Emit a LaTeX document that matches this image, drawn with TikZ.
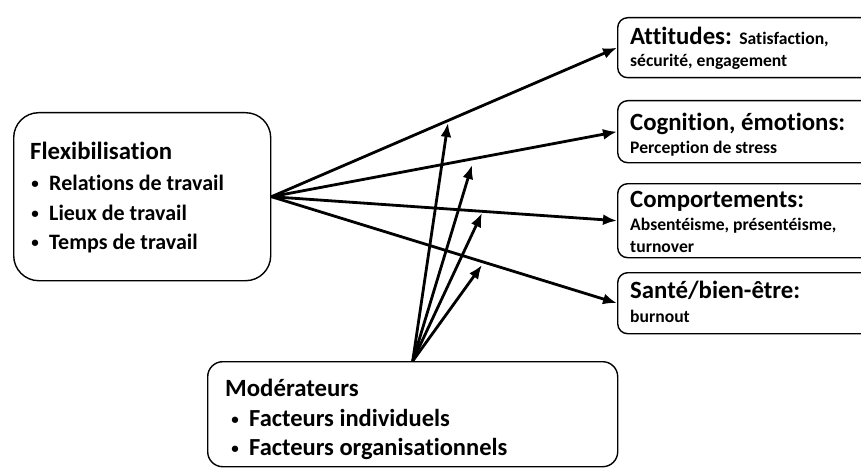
\documentclass[tikz,border=0pt]{standalone}
\usepackage{fontspec}
\setmainfont{Carlito}[Ligatures=NoCommon]
\usetikzlibrary{arrows.meta}
\newcommand{\bul}{\makebox[21pt][l]{\makebox[14pt][c]{\raisebox{1.5pt}{\fontsize{15}{15}\selectfont\textbullet}}}}
\begin{document}
\begin{tikzpicture}[x=1pt,y=-1pt,
  box/.style={draw, line width=1.4pt, rounded corners=#1, inner sep=0pt, anchor=north west},
  box/.default=10pt,
  head/.style={anchor=base west, inner sep=0pt, font=\fontsize{24.8}{28}\selectfont\bfseries},
  item/.style={anchor=base west, inner sep=0pt, font=\fontsize{22}{26}\selectfont\bfseries},
  mitem/.style={anchor=base west, inner sep=0pt, font=\fontsize{24.5}{28}\selectfont\bfseries},
  sub/.style={anchor=base west, inner sep=0pt, font=\fontsize{17.6}{20}\selectfont\bfseries},
  arr/.style={line width=2.8pt, -{Latex[length=14pt,width=11pt]}}]
\useasboundingbox (0,0) rectangle (861,468);
\clip (0,0) rectangle (861,468);
% boxes
\node[box=25pt, minimum width=257pt, minimum height=168pt] (flex) at (13,112) {};
\node[box=10pt, minimum width=300pt, minimum height=60pt] (att) at (617,17) {};
\node[box=10pt, minimum width=300pt, minimum height=62pt] (cog) at (617,100) {};
\node[box=10pt, minimum width=300pt, minimum height=74pt] (comp) at (617,183) {};
\node[box=10pt, minimum width=300pt, minimum height=61pt] (sante) at (617,272) {};
\node[box=15pt, minimum width=410pt, minimum height=105pt] (mod) at (207,361) {};
% texts
\node[head] (flexh) at (30,159) {Flexibilisation};
\node[item] (flex1) at (28,190) {\bul Relations de travail};
\node[item] (flex2) at (28,220) {\bul Lieux de travail};
\node[item] (flex3) at (28,249) {\bul Temps de travail};
\node[head] (atth) at (630,45) {Attitudes: {\fontsize{17.6}{20}\selectfont Satisfaction,}};
\node[sub] (att2) at (630,67) {sécurité, engagement};
\node[head] (cogh) at (630,130) {Cognition, émotions:};
\node[sub] (cog2) at (630,153) {Perception de stress};
\node[head] (comph) at (630,207) {Comportements:};
\node[sub] (comp2) at (630,230) {Absentéisme, présentéisme,};
\node[sub] (comp3) at (630,252) {turnover};
\node[head] (santeh) at (630,298) {Santé/bien-être:};
\node[sub] (sante2) at (630,322) {burnout};
\node[head] (modh) at (225,396) {Modérateurs};
\node[mitem] (mod1) at (228,426) {\bul Facteurs individuels};
\node[mitem] (mod2) at (228,455) {\bul Facteurs organisationnels};
% target points of the moderator arrows
\coordinate (t1) at (448,123);
\coordinate (t2) at (472,165);
\coordinate (t3) at (482,213);
\coordinate (t4) at (482,265);
% connectors
\draw[arr] (flex.east) -- (att.west);
\draw[arr] (flex.east) -- (cog.west);
\draw[arr] (flex.east) -- (comp.west);
\draw[arr] (flex.east) -- (sante.west);
\draw[arr] (mod.north) -- (t1);
\draw[arr] (mod.north) -- (t2);
\draw[arr] (mod.north) -- (t3);
\draw[arr] (mod.north) -- (t4);
\end{tikzpicture}
\end{document}
